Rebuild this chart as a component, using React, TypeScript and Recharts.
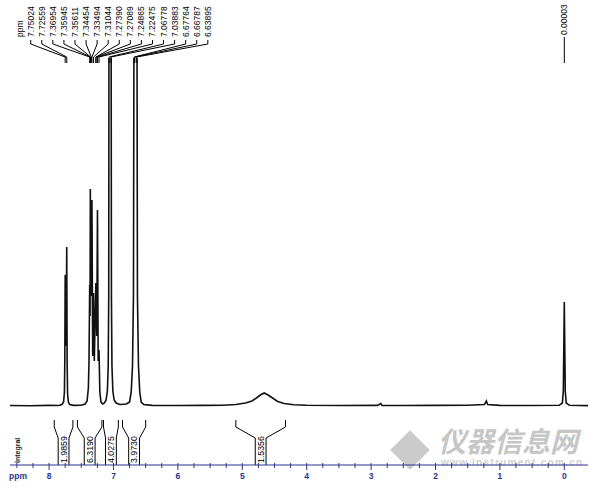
import { LineChart, Line, XAxis, YAxis, ReferenceLine } from "recharts";

// spectrum trace: [ppm, height above baseline]
const trace: [number, number][] = [
  [8.61, 0.5], [8.3, 0.3], [8.0, 0.6], [7.85, 0.5], [7.8, 1.5], [7.775, 4], [7.762, 14],
  [7.756, 45], [7.75, 131], [7.745, 70], [7.739, 60], [7.733, 90], [7.726, 159], [7.72, 45],
  [7.713, 12], [7.7, 4], [7.68, 1.5], [7.62, 0.6], [7.5, 0.8], [7.44, 2], [7.41, 5], [7.39, 18],
  [7.38, 45], [7.3695, 121], [7.364, 90], [7.3595, 217], [7.3575, 170], [7.3561, 201], [7.35, 120],
  [7.3445, 150], [7.34, 110], [7.3349, 206], [7.323, 50], [7.3104, 113], [7.298, 45], [7.2739, 123],
  [7.2724, 105], [7.2709, 112], [7.26, 70], [7.2487, 196], [7.238, 45], [7.2248, 56], [7.212, 14],
  [7.195, 4], [7.17, 2], [7.14, 3], [7.115, 6], [7.095, 15], [7.082, 40], [7.074, 110], [7.068, 520],
  [7.053, 430], [7.039, 520], [7.032, 110], [7.024, 40], [7.01, 15], [6.99, 6], [6.96, 3], [6.9, 1.5],
  [6.8, 2], [6.75, 4], [6.725, 14], [6.705, 40], [6.69, 110], [6.678, 520], [6.668, 500], [6.655, 450],
  [6.639, 520], [6.628, 110], [6.612, 40], [6.592, 14], [6.57, 4], [6.53, 1.5], [6.4, 0.6], [6.0, 0.5],
  [5.6, 0.6], [5.3, 0.8], [5.1, 1.5], [4.95, 3], [4.85, 5], [4.78, 8], [4.72, 11], [4.66, 13],
  [4.6, 11], [4.53, 8], [4.45, 4.5], [4.35, 2.5], [4.2, 1.2], [4.0, 0.7], [3.5, 0.5], [2.9, 0.6],
  [2.85, 2.5], [2.83, 0.6], [2.5, 0.5], [2.0, 0.6], [1.5, 0.8], [1.24, 1.5], [1.21, 5], [1.19, 1.5],
  [1.0, 0.6], [0.5, 0.5], [0.08, 0.7], [0.03, 3], [0.015, 15], [0.0, 104], [-0.015, 15], [-0.03, 3],
  [-0.08, 0.7], [-0.37, 0.4],
];

const peakLabels = [
  "7.75024", "7.72559", "7.36954", "7.35945", "7.35611", "7.34454", "7.33494", "7.31044",
  "7.27390", "7.27089", "7.24865", "7.22475", "7.06778", "7.03883", "6.67764", "6.66787", "6.63895",
];
const tmsLabel = "0.00003";

const integralValues = ["1.9859", "6.3190", "4.0275", "3.9730", "1.5356"];
const integralFrom = [7.92, 7.56, 7.155, 6.86, 5.1];
const integralTo = [7.63, 7.18, 6.925, 6.5, 4.33];

const majorTicks = [8, 7, 6, 5, 4, 3, 2, 1, 0];
const minorTicks = [8.5, 8.25, ...majorTicks.slice(0, -1).flatMap((m) => [m - 0.25, m - 0.5, m - 0.75])];

const AXIS = "#2c3590";
const FONT = "Liberation Sans, Arial, sans-serif";

const data = trace.map(([ppm, h]) => ({ ppm, h }));

const labelX = (i: number) => 30.7 + 11.07 * i;

function peakShape(i: number) {
  return (p: any) => {
    const px = p.x1;
    const top = p.y1;
    const lx = labelX(i);
    return (
      <g>
        {i === 0 && (
          <text transform={`translate(${lx - 11.07 + 3},${top - 21}) rotate(-90)`} fontSize={8.5} fontFamily={FONT} fill="#000">
            ppm
          </text>
        )}
        <text transform={`translate(${lx + 3},${top - 21}) rotate(-90)`} fontSize={8.5} fontFamily={FONT} fill="#000">
          {peakLabels[i]}
        </text>
        <polyline
          points={`${lx},${top - 18} ${lx},${top - 14} ${px},${top - 1} ${px},${p.y2}`}
          fill="none"
          stroke="#000"
          strokeWidth={1}
        />
      </g>
    );
  };
}

function tmsShape(p: any) {
  return (
    <g>
      <text transform={`translate(${p.x1 + 3},${p.y1 - 2}) rotate(-90)`} fontSize={8.5} fontFamily={FONT} fill="#000">
        {tmsLabel}
      </text>
      <line x1={p.x1} y1={p.y1} x2={p.x2} y2={p.y2} stroke="#000" strokeWidth={1} />
    </g>
  );
}

function integralShape(i: number) {
  return (p: any) => {
    const a = Math.min(p.x1, p.x2);
    const b = Math.max(p.x1, p.x2);
    const m = (a + b) / 2;
    const y0 = p.y1;
    const bottom = y0 + 45;
    return (
      <g>
        <path
          d={`M${a},${y0} L${a},${y0 + 7} L${m - 5.4},${y0 + 18} L${m - 5.4},${bottom} M${b},${y0} L${b},${y0 + 7} L${m + 5.4},${y0 + 18} L${m + 5.4},${bottom}`}
          fill="none"
          stroke="#000"
          strokeWidth={1}
        />
        <text transform={`translate(${m + 3.2},${bottom - 2}) rotate(-90)`} fontSize={8.8} fontFamily={FONT} fill="#000">
          {integralValues[i]}
        </text>
      </g>
    );
  };
}

function Tick(props: any) {
  const { x, y, payload } = props;
  const major = majorTicks.includes(payload.value);
  return (
    <g>
      <line x1={x} y1={y - 2} x2={x} y2={y + (major ? 5 : 3)} stroke={AXIS} strokeWidth={1} />
      {major && (
        <text x={x} y={y + 14} textAnchor="middle" fontSize={8.5} fontWeight="bold" fontFamily={FONT} fill={AXIS}>
          {payload.value}
        </text>
      )}
    </g>
  );
}

export default function App() {
  return (
    <div style={{ position: "absolute", left: 0, top: 0, width: 606, height: 494, background: "#fff" }}>
      <svg width={606} height={494} style={{ position: "absolute", left: 0, top: 0 }}>
        <g fill="#c6c6c6" fontFamily="Noto Sans CJK SC, sans-serif">
          <rect x={396} y={436} width={28} height={28} transform="rotate(45 410 450)" fill="#cbcbcb" />
          <text x={438} y={452} fontSize={28} fontWeight="bold" fontStyle="italic">仪器信息网</text>
          <text x={441} y={466} fontSize={10} fontWeight="bold" fontFamily={FONT} letterSpacing={1.3} fill="#d0d0d0">
            www.instrument.com.cn
          </text>
        </g>
        <text transform="translate(20,463) rotate(-90)" fontSize={7} fontWeight="bold" fontFamily={FONT} fill="#222">
          Integral
        </text>
        <text x={18} y={479} textAnchor="middle" fontSize={8.5} fontWeight="bold" fontFamily={FONT} fill={AXIS}>
          ppm
        </text>
      </svg>
      <div style={{ position: "absolute", left: 0, top: 0 }}>
        <LineChart width={606} height={494} data={data} margin={{ top: 58, right: 18, bottom: 0, left: 10 }}>
          <XAxis
            dataKey="ppm"
            type="number"
            domain={[-0.368, 8.607]}
            allowDataOverflow
            reversed
            ticks={[...majorTicks, ...minorTicks]}
            tick={<Tick />}
            tickLine={false}
            tickSize={0}
            tickMargin={0}
            height={29}
            axisLine={{ stroke: AXIS, strokeWidth: 1 }}
            interval={0}
          />
          <YAxis hide type="number" domain={[-59, 348]} allowDataOverflow />
          <Line
            dataKey="h"
            type="linear"
            dot={false}
            stroke="#111"
            strokeWidth={1.6}
            isAnimationActive={false}
          />
          {peakLabels.map((lab, i) => (
            <ReferenceLine
              key={lab}
              segment={[{ x: Number(lab), y: 348 }, { x: Number(lab), y: 343 }]}
              ifOverflow="visible"
              shape={peakShape(i)}
            />
          ))}
          <ReferenceLine
            segment={[{ x: Number(tmsLabel), y: 369 }, { x: Number(tmsLabel), y: 343 }]}
            ifOverflow="visible"
            shape={tmsShape}
          />
          {integralValues.map((v, i) => (
            <ReferenceLine
              key={v}
              segment={[{ x: integralFrom[i], y: -14 }, { x: integralTo[i], y: -14 }]}
              ifOverflow="visible"
              shape={integralShape(i)}
            />
          ))}
        </LineChart>
      </div>
    </div>
  );
}
